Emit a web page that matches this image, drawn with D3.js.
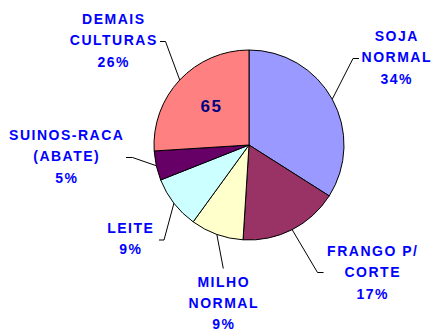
<!DOCTYPE html>
<html>
<head>
<meta charset="utf-8">
<script src="https://cdn.jsdelivr.net/npm/d3@7"></script>
<style>
  html, body { margin: 0; padding: 0; background: #fff; }
  svg { display: block; }
  .lbl { font-family: "Liberation Sans", Arial, sans-serif; font-weight: bold; font-size: 14px; fill: #0000ff; letter-spacing: 1.5px; }
</style>
</head>
<body>
<script>
// Slices, clockwise from twelve o'clock
const categories = ["SOJA NORMAL", "FRANGO P/ CORTE", "MILHO NORMAL", "LEITE", "SUINOS-RACA (ABATE)", "DEMAIS CULTURAS"];
const labelLines = [["SOJA", "NORMAL"], ["FRANGO P/", "CORTE"], ["MILHO", "NORMAL"], ["LEITE"], ["SUINOS-RACA", "(ABATE)"], ["DEMAIS", "CULTURAS"]];
const values = [34, 17, 9, 9, 5, 26];
const colors = ["#9999ff", "#993366", "#ffffcc", "#ccffff", "#660066", "#ff8080"];
const centerNote = "65";

const W = 433, H = 331;
const cx = 249, cy = 145, R = 95;

// Label placement: text centre x, first baseline, leader elbow and leader end
const labelLayout = [
  { x: 396, y: 41,  elbow: [353, 58.5], end: [359, 58.5] },
  { x: 372, y: 256, elbow: [317.5, 272.5], end: [323.5, 272.5] },
  { x: 223, y: 286.7, elbow: [223.3, 268.5], end: [223.3, 268.5] },
  { x: 130, y: 233, elbow: [164, 240], end: [159, 240] },
  { x: 66,  y: 140, elbow: [132.5, 157.5], end: [126, 157.5] },
  { x: 113, y: 24,  elbow: [165.5, 41.5], end: [160, 41.5] }
];
const lineGap = 21.3;

const svg = d3.select("body").append("svg")
  .attr("width", W).attr("height", H);

const pie = d3.pie().sort(null).value(d => d)(values);
const arc = d3.arc().innerRadius(0).outerRadius(R);

const g = svg.append("g").attr("transform", `translate(${cx},${cy})`);

g.selectAll("path.slice")
  .data(pie)
  .join("path")
  .attr("class", "slice")
  .attr("d", arc)
  .attr("fill", (d, i) => colors[i])
  .attr("stroke", "#000")
  .attr("stroke-width", 1)
  .attr("stroke-linejoin", "round");

// Leader lines from each slice's outer edge at its mid angle
const leaders = svg.append("g");
pie.forEach((d, i) => {
  const a = (d.startAngle + d.endAngle) / 2;
  const p0 = [cx + R * Math.sin(a), cy - R * Math.cos(a)];
  const L = labelLayout[i];
  leaders.append("polyline")
    .attr("points", [p0, L.elbow, L.end].map(p => p.join(",")).join(" "))
    .attr("fill", "none")
    .attr("stroke", "#000")
    .attr("stroke-width", 1);
});

// Category names with percentages
const labels = svg.append("g");
pie.forEach((d, i) => {
  const L = labelLayout[i];
  const lines = labelLines[i].concat([d3.format(".0f")(d.data) + "%"]);
  const t = labels.append("text")
    .attr("class", "lbl")
    .attr("text-anchor", "middle");
  lines.forEach((s, k) => {
    t.append("tspan")
      .attr("x", L.x + 0.75)
      .attr("y", L.y + k * lineGap)
      .text(s);
  });
});

// Note inside the largest remaining slice
svg.append("text")
  .attr("x", 211.5)
  .attr("y", 111.7)
  .attr("text-anchor", "middle")
  .attr("font-family", "Liberation Sans, Arial, sans-serif")
  .attr("font-weight", "bold")
  .attr("font-size", 17)
  .attr("letter-spacing", 1.5)
  .attr("fill", "#000080")
  .text(centerNote);
</script>
</body>
</html>
